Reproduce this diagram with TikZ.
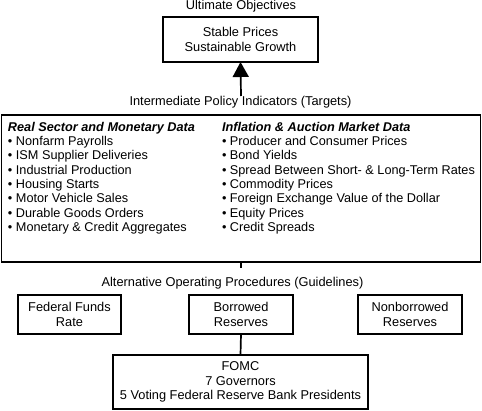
\documentclass[tikz,border=0pt]{standalone}
\usepackage{fontspec}
\setmainfont{Liberation Sans}
\usetikzlibrary{arrows.meta}
\begin{document}
\begin{tikzpicture}[x=1pt,y=-1pt,
  every node/.style={inner sep=0pt, outer sep=0pt, font=\fontsize{12.8}{14.2}\selectfont},
  box/.style={draw, line width=1.7pt, align=center},
  lbl/.style={anchor=base},
  col/.style={align=left, anchor=north west, font=\fontsize{12.7}{14.3}\selectfont},
  conn/.style={line width=1.7pt}]
\useasboundingbox (0,0) rectangle (482,410);
% top
\node[lbl] (ult) at (241,9.5) {Ultimate Objectives};
\node[box, minimum width=155pt, minimum height=45pt] (obj) at (240.5,39.5) {Stable Prices\\Sustainable Growth};
\node[lbl] (inter) at (240.5,105) {Intermediate Policy Indicators (Targets)};
\coordinate (arrbase) at (241,96);
\draw[conn, -{Triangle[length=15pt,width=16pt]}] (arrbase) -- (obj.south);
% big box
\node[draw, line width=1.7pt, minimum width=479pt, minimum height=147pt] (ind) at (241,188.5) {};
\node[col] (left) at (8,122) {\textbf{\textit{Real Sector and Monetary Data}}\\
• Nonfarm Payrolls\\
• ISM Supplier Deliveries\\
• Industrial Production\\
• Housing Starts\\
• Motor Vehicle Sales\\
• Durable Goods Orders\\
• Monetary \& Credit Aggregates};
\node[col] (right) at (222,122) {\textbf{\textit{Inflation \& Auction Market Data}}\\
• Producer and Consumer Prices\\
• Bond Yields\\
• Spread Between Short- \& Long-Term Rates\\
• Commodity Prices\\
• Foreign Exchange Value of the Dollar\\
• Equity Prices\\
• Credit Spreads};
\coordinate (indend) at (241,268);
\draw[conn] (ind.south -| indend) -- (indend);
\node[lbl] (alt) at (232.5,286.7) {Alternative Operating Procedures (Guidelines)};
% small boxes
\node[box, minimum width=103pt, minimum height=39pt] (ffr) at (69.5,314.5) {Federal Funds\\Rate};
\node[box, minimum width=104pt, minimum height=39pt] (br) at (241,314.5) {Borrowed\\Reserves};
\node[box, minimum width=104pt, minimum height=39pt] (nbr) at (410,314.5) {Nonborrowed\\Reserves};
\node[box, minimum width=255pt, minimum height=54pt] (fomc) at (240.5,382) {FOMC\\7 Governors\\5 Voting Federal Reserve Bank Presidents};
\draw[conn] (br.south) -- (fomc.north);
\end{tikzpicture}
\end{document}
